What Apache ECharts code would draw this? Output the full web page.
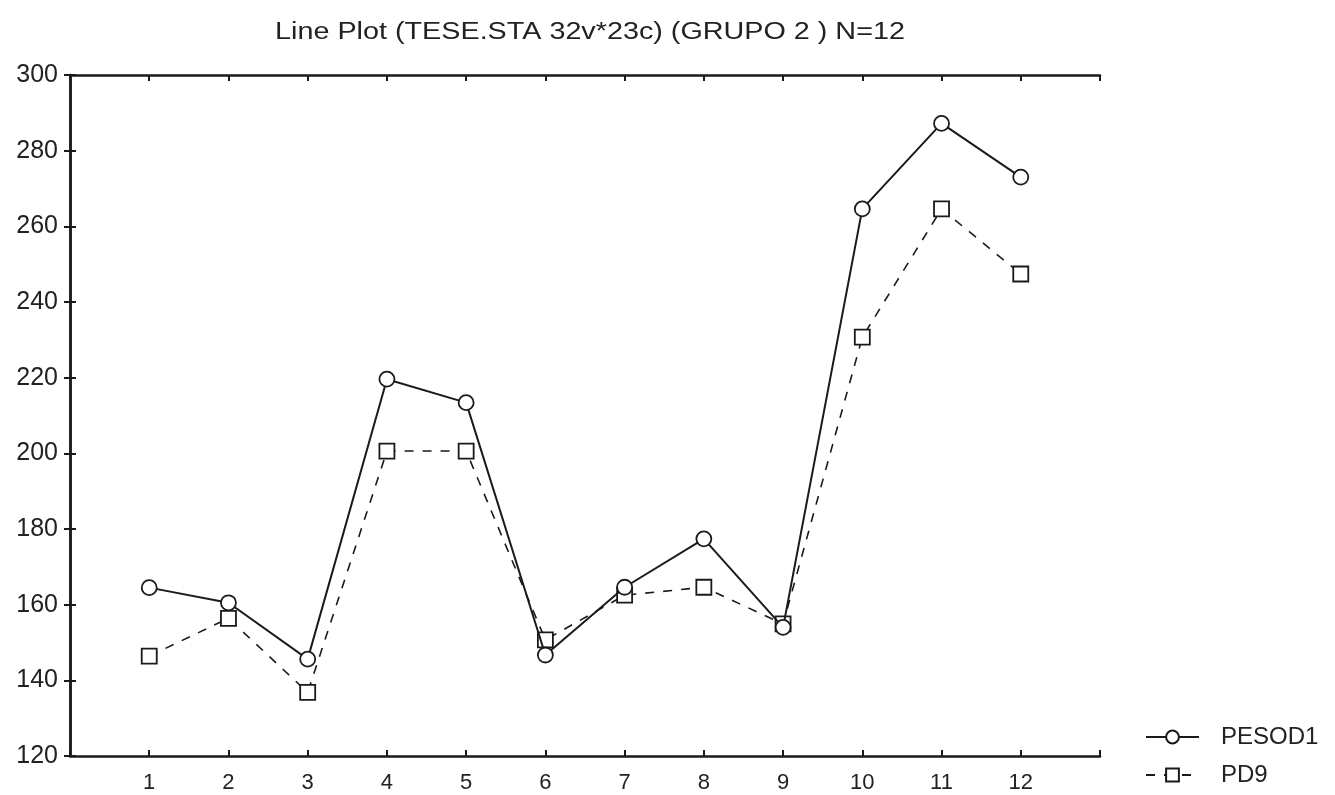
<!DOCTYPE html>
<html>
<head>
<meta charset="utf-8">
<script src="https://cdn.jsdelivr.net/npm/echarts@6/dist/echarts.min.js"></script>
<style>
  html, body { margin: 0; padding: 0; background: #fff; }
  #chart { width: 1335px; height: 795px; }
</style>
</head>
<body>
<div id="chart"></div>
<script>
  var categories = [1, 2, 3, 4, 5, 6, 7, 8, 9, 10, 11, 12];
  var pesod1 = [164.5, 160.5, 145.6, 219.6, 213.4, 146.7, 164.6, 177.4, 154, 264.6, 287.2, 273];
  var pd9 = [146.4, 156.4, 136.8, 200.6, 200.6, 150.7, 162.5, 164.6, 154.9, 230.7, 264.6, 247.4];
  var titleText = 'Line Plot (TESE.STA 32v*23c) (GRUPO 2 ) N=12';

  var ink = '#1a1a1a';
  var font = 'Liberation Sans, Arial, sans-serif';

  function pairs(vals) {
    return categories.map(function (c, i) { return [c, vals[i]]; });
  }

  var myChart = echarts.init(document.getElementById('chart'));

  var tickAxis = {
    axisLine: { show: true, lineStyle: { color: ink, width: 2.5 } },
    axisTick: { show: true, inside: true, length: 6, lineStyle: { color: ink, width: 2 } },
    splitLine: { show: false }
  };

  var options = {
    backgroundColor: '#fff',
    animation: false,
    // the scanned title is stretched sideways, so draw it as scaled text
    graphic: [{
      type: 'text',
      x: 590,
      y: 33,
      scaleX: 1.25,
      style: {
        text: titleText,
        fill: '#222',
        font: '23px ' + font,
        textAlign: 'center',
        textVerticalAlign: 'middle'
      }
    }],
    legend: {
      orient: 'vertical',
      left: 1145,
      top: 725,
      height: 70,
      padding: 0,
      itemWidth: 53,
      itemHeight: 16,
      itemGap: 14,
      textStyle: { color: '#222', fontSize: 24, lineHeight: 23, fontFamily: font, padding: [0, 0, 0, 17] },
      data: ['PESOD1', 'PD9']
    },
    grid: { left: 70, right: 235, top: 75, bottom: 39 },
    xAxis: [
      Object.assign({
        type: 'value', min: 0, max: 13, interval: 1, position: 'bottom',
        axisLabel: {
          color: '#222', fontSize: 22, fontFamily: font, margin: 16,
          formatter: function (v) { return (v >= 1 && v <= 12) ? String(v) : ''; }
        }
      }, tickAxis),
      Object.assign({
        type: 'value', min: 0, max: 13, interval: 1, position: 'top',
        axisLabel: { show: false }
      }, tickAxis)
    ],
    yAxis: [
      Object.assign({
        type: 'value', min: 120, max: 300, interval: 20, position: 'left',
        axisLabel: { color: '#222', fontSize: 25, fontFamily: font, margin: 12 }
      }, tickAxis),
      Object.assign({
        type: 'value', min: 120, max: 300, interval: 20, position: 'right',
        axisLabel: { show: false }
      }, tickAxis)
    ],
    series: [
      {
        name: 'PESOD1',
        type: 'line',
        data: pairs(pesod1),
        symbol: 'circle',
        symbolSize: 15,
        color: ink,
        itemStyle: { color: '#fff', borderColor: ink, borderWidth: 1.8 },
        lineStyle: { color: ink, width: 2, type: 'solid' },
        z: 3
      },
      {
        name: 'PD9',
        type: 'line',
        data: pairs(pd9),
        symbol: 'rect',
        symbolSize: 15,
        color: ink,
        itemStyle: { color: '#fff', borderColor: ink, borderWidth: 1.8 },
        lineStyle: { color: ink, width: 1.6, type: [9, 9] },
        z: 2
      }
    ]
  };
  myChart.setOption(options);
</script>
</body>
</html>
